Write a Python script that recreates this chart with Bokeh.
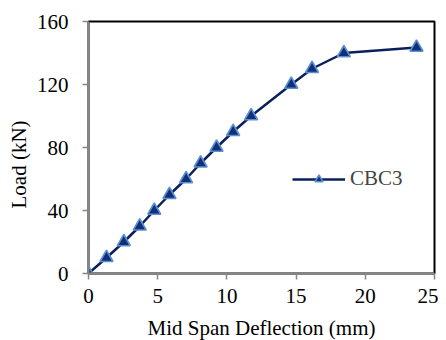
from bokeh.plotting import figure
from bokeh.models import Title, FixedTicker
from bokeh.embed import file_html
from bokeh.resources import INLINE

# Data
deflection = [0.0, 1.3, 2.55, 3.7, 4.75, 5.85, 7.05, 8.1, 9.25, 10.45, 11.75, 14.65, 16.15, 18.45, 23.7]
load = [0, 10, 20, 30, 40, 50, 60, 70, 80, 90, 100, 120, 130, 140, 143.5]
series_name = "CBC3"
x_ticks = [0, 5, 10, 15, 20, 25]
y_ticks = [0, 40, 80, 120, 160]

FONT = "Liberation Serif"
LINE_COLOR = "#0a1f5c"
MARK_FILL = "#12307a"
MARK_EDGE = "#5b8fd0"
AXIS_GRAY = "#868686"

p = figure(width=438, height=332, output_backend="svg", toolbar_location=None,
           x_range=(0, 25), y_range=(0, 160),
           min_border_left=88, min_border_right=4, min_border_top=21, min_border_bottom=59)
p.frame_width = 346
p.frame_height = 252
p.background_fill_color = "white"
p.border_fill_color = "white"
p.outline_line_color = "black"
p.outline_line_width = 2
p.grid.visible = False

p.line(deflection, load, line_color=LINE_COLOR, line_width=2.5, legend_label=series_name)
p.scatter(deflection, load, marker="triangle", size=13, fill_color=MARK_FILL,
          line_color=MARK_EDGE, line_width=1.6, legend_label=series_name)

for ax in (p.xaxis[0], p.yaxis[0]):
    ax.axis_line_color = AXIS_GRAY
    ax.axis_line_width = 2
    ax.major_tick_line_color = AXIS_GRAY
    ax.major_tick_line_width = 1.5
    ax.major_tick_in = 0
    ax.major_tick_out = 6
    ax.minor_tick_line_color = None
    ax.major_label_text_font = FONT
    ax.major_label_text_font_size = "21px"
    ax.major_label_text_color = "black"

p.xaxis.ticker = FixedTicker(ticks=x_ticks)
p.yaxis.ticker = FixedTicker(ticks=y_ticks)
p.xaxis.major_label_standoff = 9
p.yaxis.major_label_standoff = 14

p.xaxis.axis_label = "Mid Span Deflection (mm)"
p.xaxis.axis_label_text_font = FONT
p.xaxis.axis_label_text_font_size = "21px"
p.xaxis.axis_label_text_font_style = "normal"
p.xaxis.axis_label_text_color = "black"
p.xaxis.axis_label_standoff = 10

ytitle = Title(text="Load  (kN)", align="left", offset=65, standoff=6,
               text_font=FONT, text_font_size="21px", text_font_style="normal",
               text_color="black")
p.add_layout(ytitle, "left")

leg = p.legend[0]
leg.location = (204, 82)
leg.padding = 0
leg.margin = 0
leg.spacing = 0
leg.border_line_color = None
leg.background_fill_alpha = 0
leg.glyph_width = 53
leg.glyph_height = 20
leg.label_height = 20
leg.label_standoff = 5
leg.label_text_font = FONT
leg.label_text_font_size = "21px"

open("out.html", "w").write(file_html(p, INLINE))
